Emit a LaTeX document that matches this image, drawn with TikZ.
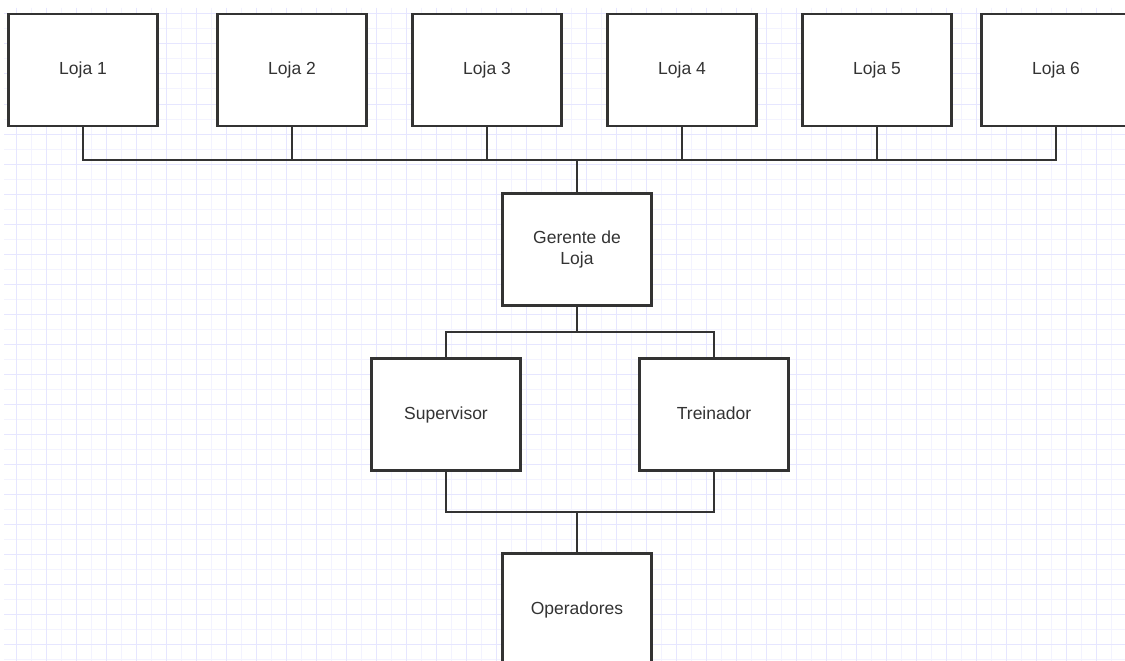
\documentclass[tikz,border=0pt]{standalone}
\usepackage{fontspec}
\setmainfont{Liberation Sans}
\usepackage{tikz}
\definecolor{gridfaint}{RGB}{243, 243, 255}
\definecolor{gridbold}{RGB}{230, 230, 255}
\definecolor{boxline}{RGB}{51, 51, 51}
\tikzset{
  % org chart box
  orgbox/.style={rectangle,draw=boxline,fill=white,line width=2.6pt,minimum width=149pt,minimum height=112pt,inner sep=0pt,align=center,text=boxline,font=\fontsize{17.5}{21}\selectfont},
  % one line of text, same baseline in every box
  oneline/.style={text height=12.5pt,text depth=3.5pt},
  % connectors
  link/.style={draw=boxline,line width=2pt},
  % background grid
  minorline/.style={draw=gridfaint,line width=1pt},
  majorline/.style={draw=gridbold,line width=1pt}
}
\begin{document}
\begin{tikzpicture}[x=1pt,y=-1pt]
  \useasboundingbox (0,0) rectangle (1125,661);
  \clip (0,0) rectangle (1125,661);
  \fill[white] (0,0) rectangle (1125,661);
  %%%%%%%%%%%%%%%%%%%%%%%%%%%%%%%%%%%%%%%
  \foreach \x in {16,31,...,1125} \draw[minorline] (\x,8) -- (\x,661);
  \foreach \y in {14,29,...,661} \draw[minorline] (4,\y) -- (1125,\y);
  \foreach \x in {16,46,...,1125} \draw[majorline] (\x,8) -- (\x,661);
  \foreach \y in {14,44,...,661} \draw[majorline] (4,\y) -- (1125,\y);
  %%%%%%%%%%%%%%%%%%%%%%%%%%%%%%%%%%%%%%%
  \node[orgbox,oneline] (loja1) at (83,70) {Loja 1};
  \node[orgbox,oneline] (loja2) at (292,70) {Loja 2};
  \node[orgbox,oneline] (loja3) at (487,70) {Loja 3};
  \node[orgbox,oneline] (loja4) at (682,70) {Loja 4};
  \node[orgbox,oneline] (loja5) at (877,70) {Loja 5};
  \node[orgbox,oneline] (loja6) at (1056,70) {Loja 6};
  \coordinate (topbus) at (577,160);
  \draw[link] (loja1.south) |- (topbus);
  \draw[link] (loja2.south) |- (topbus);
  \draw[link] (loja3.south) |- (topbus);
  \draw[link] (loja4.south) |- (topbus);
  \draw[link] (loja5.south) |- (topbus);
  \draw[link] (loja6.south) |- (topbus);
  %%%%%%%%%%%%%%%%%%%%%%%%%%%%%%%%%%%%%%%
  \node[orgbox] (gerente) at (577,249.5) {Gerente de\\Loja};
  \draw[link] (topbus) -- (gerente.north);
  \coordinate (midbus) at (577,332);
  \draw[link] (gerente.south) -- (midbus);
  %%%%%%%%%%%%%%%%%%%%%%%%%%%%%%%%%%%%%%%
  \node[orgbox,oneline] (supervisor) at (446,414.5) {Supervisor};
  \node[orgbox,oneline] (treinador) at (714,414.5) {Treinador};
  \draw[link] (midbus) -| (supervisor.north);
  \draw[link] (midbus) -| (treinador.north);
  \coordinate (lowbus) at (577,512);
  \draw[link] (supervisor.south) |- (lowbus);
  \draw[link] (treinador.south) |- (lowbus);
  %%%%%%%%%%%%%%%%%%%%%%%%%%%%%%%%%%%%%%%
  \node[orgbox,oneline] (operadores) at (577,609.5) {Operadores};
  \draw[link] (lowbus) -- (operadores.north);
\end{tikzpicture}
\end{document}
